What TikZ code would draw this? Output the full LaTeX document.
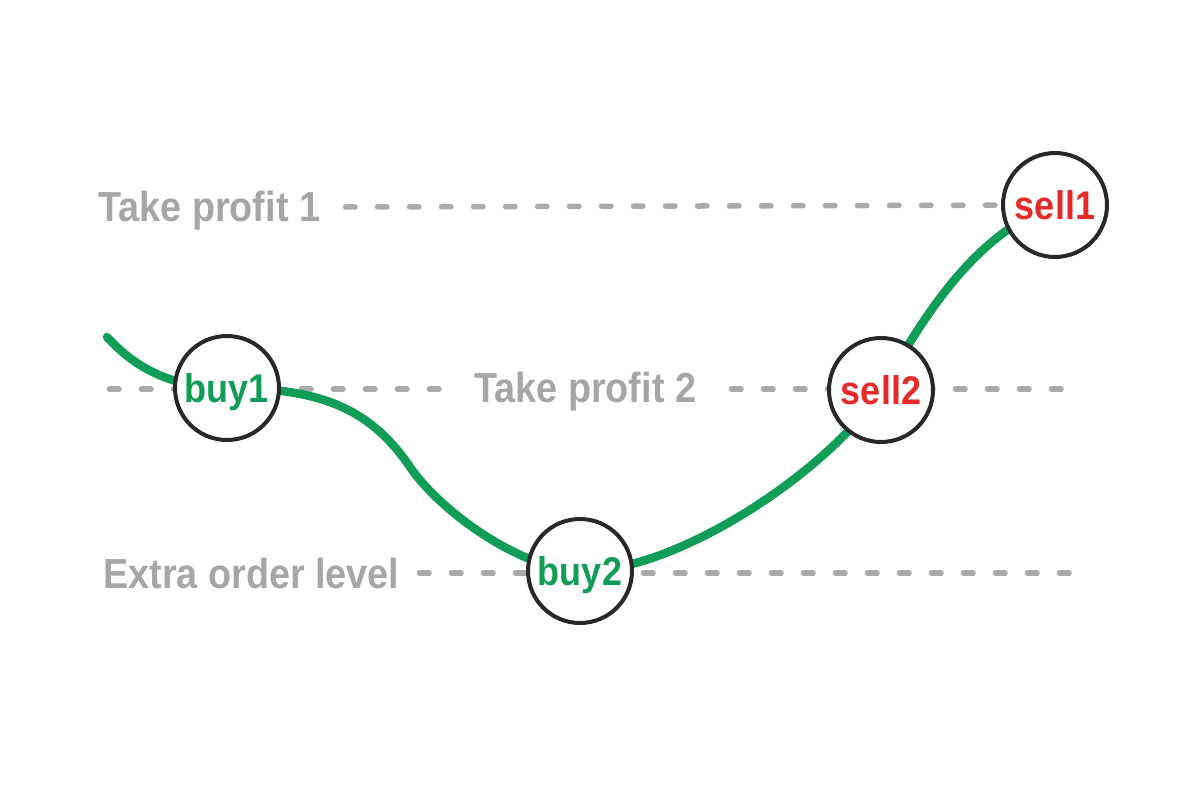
\documentclass[tikz,border=0pt]{standalone}
\usepackage{fontspec}
\setmainfont{Liberation Sans}[FakeStretch=0.9]
\definecolor{curvegreen}{RGB}{15,157,88}
\definecolor{sellred}{RGB}{230,42,42}
\definecolor{lvlgray}{RGB}{166,166,166}
\definecolor{dashgray}{RGB}{170,170,170}
\definecolor{ringgray}{RGB}{40,40,40}
\begin{document}
\begin{tikzpicture}[x=1pt,y=-1pt,
  level/.style={draw=dashgray,line width=5.5pt,line cap=round,dash pattern=on 9.5pt off 22.5pt},
  lvltext/.style={text=lvlgray,font=\bfseries\fontsize{42}{50}\selectfont,inner sep=0pt},
  ring/.style={circle,draw=ringgray,line width=4pt,fill=white,minimum size=104pt,inner sep=0pt},
  ringtext/.style={font=\bfseries\fontsize{40}{48}\selectfont,inner sep=0pt,anchor=base},
  price/.style={draw=curvegreen,line width=8.5pt,line cap=round}]
\useasboundingbox (0,0) rectangle (1200,800);
% positions
\coordinate (pb1) at (227,388);
\coordinate (pb2) at (580,571);
\coordinate (ps2) at (881,390);
\coordinate (ps1) at (1055,205);
\coordinate (start) at (107,337);
\coordinate (mid) at (410,467);
% level labels
\node[lvltext,anchor=base west] (tp1) at (98,221) {Take profit 1};
\node[lvltext,anchor=base west] (tp2) at (474,402) {Take profit 2};
\node[lvltext,anchor=base west] (eol) at (103,588) {Extra order level};
% dashed levels
\coordinate (tp1s) at (345.5,207);
\coordinate (tp2a) at (109.5,389);
\coordinate (tp2b) at (440,389);
\coordinate (tp2c) at (731.5,389);
\coordinate (tp2d) at (1062.5,389);
\coordinate (eols) at (419.5,573);
\coordinate (eole) at (1069.5,573);
\draw[level] (tp1s) -- (ps1);
\draw[level] (tp2a) -- (tp2b);
\draw[level] (tp2c) -- (tp2d);
\draw[level] (eols) -- (eole);
% price curve
\draw[price] (start) .. controls (130,362) and (165,388) .. (pb1)
  .. controls (320,388) and (370,408) .. (mid)
  .. controls (440,511) and (520,569) .. (pb2)
  .. controls (680,573) and (835,465) .. (ps2)
  .. controls (920,325) and (970,235) .. (ps1);
% order circles
\node[ring] (b1) at (pb1) {};
\node[ring] (b2) at (pb2) {};
\node[ring] (s2) at (ps2) {};
\node[ring] (s1) at (ps1) {};
\node[ringtext,text=curvegreen] (b1t) at ([yshift=-14pt]b1.center) {buy1};
\node[ringtext,text=curvegreen] (b2t) at ([yshift=-14pt]b2.center) {buy2};
\node[ringtext,text=sellred] (s2t) at ([yshift=-14pt]s2.center) {sell2};
\node[ringtext,text=sellred] (s1t) at ([yshift=-14pt]s1.center) {sell1};
\end{tikzpicture}
\end{document}
